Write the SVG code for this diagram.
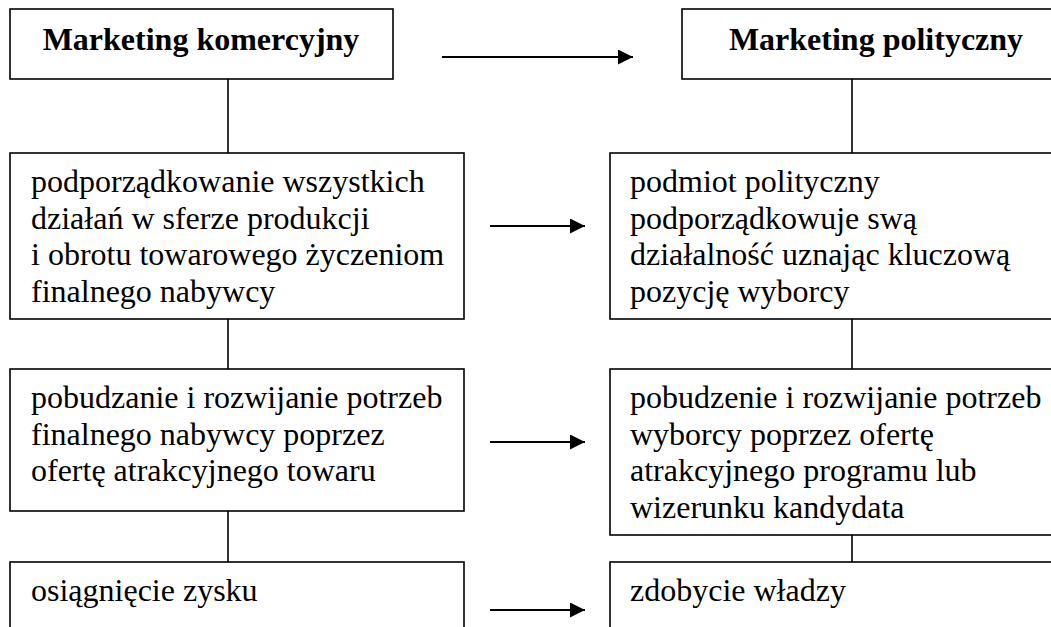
<svg xmlns="http://www.w3.org/2000/svg" width="1051" height="627" viewBox="0 0 1051 627">
<style>
.box{fill:#fff;stroke:#000;stroke-width:1.6}
.con{stroke:#000;stroke-width:1.6;fill:none}
.arr{stroke:#000;stroke-width:2;fill:none}
.t{font-family:'Liberation Serif',Tinos,'Times New Roman','DejaVu Serif',serif;font-size:32px;fill:#000}
.h{font-family:'Liberation Serif',Tinos,'Times New Roman','DejaVu Serif',serif;font-size:32px;font-weight:bold;fill:#000;text-anchor:middle}
</style>
<defs>
<marker id="ah" markerUnits="userSpaceOnUse" markerWidth="16" markerHeight="16" refX="15" refY="7.5" orient="auto">
<path d="M0,0 L15,7.5 L0,15 Z" fill="#000"/>
</marker>
</defs>
<rect width="1051" height="627" fill="#fff"/>
<g id="connectors">
<line class="con" x1="228" y1="79" x2="228" y2="153"/>
<line class="con" x1="228" y1="319" x2="228" y2="369"/>
<line class="con" x1="228" y1="511" x2="228" y2="562"/>
<line class="con" x1="852" y1="79" x2="852" y2="153"/>
<line class="con" x1="852" y1="319" x2="852" y2="369"/>
<line class="con" x1="852" y1="535" x2="852" y2="562"/>
<line class="arr" x1="442" y1="57" x2="633" y2="57" marker-end="url(#ah)"/>
<line class="arr" x1="490" y1="226" x2="585" y2="226" marker-end="url(#ah)"/>
<line class="arr" x1="490" y1="442" x2="585" y2="442" marker-end="url(#ah)"/>
<line class="arr" x1="490" y1="610" x2="585" y2="610" marker-end="url(#ah)"/>
</g>
<g id="node-mk">
<rect class="box" x="10" y="9" width="383" height="70"/>
<text class="h" x="201" y="50" font-family="Liberation Serif">Marketing komercyjny</text>
</g>
<g id="node-mp">
<rect class="box" x="682" y="9" width="400" height="70"/>
<text class="h" x="876" y="50" font-family="Liberation Serif">Marketing polityczny</text>
</g>
<g id="node-l2">
<rect class="box" x="10" y="153" width="454" height="166"/>
<text class="t" x="31" y="192">podporządkowanie wszystkich</text>
<text class="t" x="31" y="228.7">działań w sferze produkcji</text>
<text class="t" x="31" y="265.4">i obrotu towarowego życzeniom</text>
<text class="t" x="31" y="302.1">finalnego nabywcy</text>
</g>
<g id="node-r2">
<rect class="box" x="610" y="153" width="480" height="166"/>
<text class="t" x="630" y="192">podmiot polityczny</text>
<text class="t" x="630" y="228.7">podporządkowuje swą</text>
<text class="t" x="630" y="265.4">działalność uznając kluczową</text>
<text class="t" x="630" y="302.1">pozycję wyborcy</text>
</g>
<g id="node-l3">
<rect class="box" x="10" y="369" width="454" height="142"/>
<text class="t" x="31" y="408">pobudzanie i rozwijanie potrzeb</text>
<text class="t" x="31" y="444.7">finalnego nabywcy poprzez</text>
<text class="t" x="31" y="481.4">ofertę atrakcyjnego towaru</text>
</g>
<g id="node-r3">
<rect class="box" x="610" y="369" width="480" height="166"/>
<text class="t" x="630" y="408">pobudzenie i rozwijanie potrzeb</text>
<text class="t" x="630" y="444.7">wyborcy poprzez ofertę</text>
<text class="t" x="630" y="481.4">atrakcyjnego programu lub</text>
<text class="t" x="630" y="518.1">wizerunku kandydata</text>
</g>
<g id="node-l4">
<rect class="box" x="10" y="562" width="454" height="100"/>
<text class="t" x="31" y="601">osiągnięcie zysku</text>
</g>
<g id="node-r4">
<rect class="box" x="610" y="562" width="480" height="100"/>
<text class="t" x="630" y="601">zdobycie władzy</text>
</g>
</svg>
